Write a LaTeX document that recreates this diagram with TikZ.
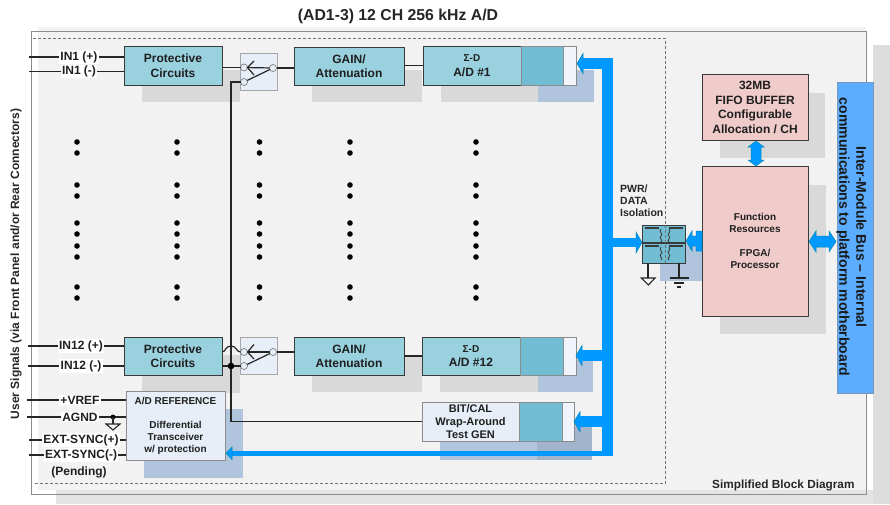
\documentclass[tikz,border=0pt]{standalone}
\usepackage{fontspec}
\setmainfont{Liberation Sans}
\definecolor{panel}{HTML}{F2F2F2}
\definecolor{shade}{HTML}{D9D9D9}
\definecolor{shadeblue}{HTML}{B0C4DE}
\definecolor{lightblue}{HTML}{E8EEF8}
\definecolor{tealbox}{HTML}{99D1DF}
\definecolor{tealdark}{HTML}{70BDD4}
\definecolor{busblue}{HTML}{0099FF}
\definecolor{barblue}{HTML}{5CADFF}
\definecolor{pinkbox}{HTML}{EFCBCA}
\definecolor{edgegray}{HTML}{8C8C8C}
\definecolor{edgedark}{HTML}{3A3A3A}
\newcommand\fs[2]{\fontsize{#1}{#2}\selectfont\bfseries}
\tikzset{
  x=1pt,y=-1pt,
  blockbase/.style={anchor=north west,inner sep=0pt,outer sep=0pt,align=center,text=black!88},
  tealblock/.style={blockbase,fill=tealbox,draw=edgedark,line width=1pt},
  pinkblock/.style={blockbase,fill=pinkbox,draw=edgedark,line width=1pt},
  paleblock/.style={blockbase,fill=lightblue,draw=edgegray,line width=1pt},
  darkpart/.style={blockbase,fill=tealdark,draw=edgegray,line width=.8pt},
  whitepart/.style={blockbase,fill=lightblue!60!white,draw=edgegray,line width=.8pt},
  switchbox/.style={blockbase,fill=lightblue,draw=black!35,line width=.8pt},
  contact/.style={circle,minimum size=7pt,inner sep=0pt,outer sep=0pt,fill=lightblue,draw=black!50,line width=.7pt},
  wire/.style={draw=black!85,line width=1.2pt},
  inlabel/.style={fill=white,inner sep=1.2pt,font=\fs{12}{14},text=black!88},
  shadegray/.style={fill=shade},
  shadebl/.style={fill=shadeblue},
  busfill/.style={fill=busblue},
  busedge/.style={fill=busblue,draw=teal!60!busblue,line width=.5pt},
  dotmark/.style={fill=black},
}
\newcommand\dotsat[1]{\foreach \cx in {77,177,259.5,350,476}{\foreach \cy in {#1}{\fill[dotmark] (\cx,\cy) circle (2.8pt);}}}
\begin{document}
\begin{tikzpicture}
\useasboundingbox (0,0) rectangle (890,504);
\fill[white] (0,0) rectangle (890,504);
% panel and its shadow
\fill[shade!70!white] (56,490) rectangle (890,504);
\fill[shade!90!white] (873,45) rectangle (890,504);
\fill[panel] (38,27) rectangle (866,490);
\draw[edgegray,line width=1pt] (31,31) rectangle (866,494);
\draw[black!55,line width=.6pt,dash pattern=on 3pt off 2pt] (33,38) -- (665.5,38) -- (665.5,483) -- (33,483);
% shadows
\fill[shadegray] (142,70) rectangle (240,102);
\fill[shadegray] (312,70) rectangle (422,102);
\fill[shadegray] (441,70) rectangle (538,102);
\fill[shadebl] (538,70) rectangle (594,102);
\fill[shadegray] (142,355) rectangle (240,393);
\fill[shadegray] (312,355) rectangle (422,392);
\fill[shadegray] (440,355) rectangle (538,392);
\fill[shadebl] (538,360) rectangle (593,392);
\fill[shadebl] (144,409) rectangle (243,478);
\fill[shadebl] (440,420) rectangle (592,460);
\fill[shadeblue!92!black] (537,427) rectangle (592,460);
\fill[shadegray] (720,93) rectangle (825,158);
\fill[shadegray] (720,185) rectangle (826,334);
\fill[shadebl] (660,243) rectangle (702,281);
% title and captions
\node[font=\fs{15.8}{18},text=black!85] (title) at (398,16) {(AD1-3) 12 CH 256 kHz A/D};
\node[font=\fs{11.8}{14},text=black!85,anchor=west,inner sep=0pt] (caption) at (712,485) {Simplified Block Diagram};
\node[font=\fs{12}{14},text=black!85,rotate=90] (usersig) at (16,264) {User Signals (via Front Panel and/or Rear Connectors)};
\node[font=\fs{10.5}{12},text=black!85,align=left,anchor=north west,inner sep=0pt] (isolabel) at (620,185) {PWR/\\DATA\\Isolation};
% blocks, channel 1
\node[tealblock,minimum width=98pt,minimum height=38.5pt,font=\fs{12}{14.5}] (prot1) at (124,46.5) {Protective\\Circuits};
\node[switchbox,minimum width=37pt,minimum height=37pt] (sw1) at (240,53) {};
\node[tealblock,minimum width=110pt,minimum height=38pt,font=\fs{12}{14.5}] (gain1) at (294,47) {GAIN/\\Attenuation};
\node[tealblock,minimum width=98pt,minimum height=38.5pt,font=\fs{12}{14.5}] (ad1) at (423,46.5) {{\fs{10}{14.5}Σ-D}\\A/D \#1};
\node[darkpart,minimum width=42pt,minimum height=38.5pt] (ad1b) at (521,46.5) {};
\node[whitepart,minimum width=13pt,minimum height=38.5pt] (ad1c) at (563,46.5) {};
% blocks, channel 12
\node[tealblock,minimum width=98pt,minimum height=38pt,font=\fs{12}{14.5}] (prot12) at (124,337) {Protective\\Circuits};
\node[switchbox,minimum width=37pt,minimum height=37pt] (sw12) at (240,337) {};
\node[tealblock,minimum width=110pt,minimum height=38pt,font=\fs{12}{14.5}] (gain12) at (294,337) {GAIN/\\Attenuation};
\node[tealblock,minimum width=98pt,minimum height=38pt,font=\fs{12}{14.5}] (ad12) at (422,337) {{\fs{10}{14.5}Σ-D}\\A/D \#12};
\node[darkpart,minimum width=43pt,minimum height=38pt] (ad12b) at (520,337) {};
\node[whitepart,minimum width=13pt,minimum height=38pt] (ad12c) at (563,337) {};
% BIT/CAL
\node[paleblock,minimum width=97pt,minimum height=39pt,font=\fs{11}{13}] (bit) at (422,402) {BIT/CAL\\Wrap-Around\\Test GEN};
\node[darkpart,minimum width=43pt,minimum height=39pt] (bitb) at (519,402) {};
\node[whitepart,minimum width=12pt,minimum height=39pt] (bitc) at (562,402) {};
% reference
\node[paleblock,minimum width=99pt,minimum height=69pt,font=\fs{10}{12}] (ref) at (126,391) {A/D REFERENCE\\[12pt]Differential\\Transceiver\\w/ protection};
% right side
\node[pinkblock,minimum width=106pt,minimum height=66pt,font=\fs{12}{14.5}] (fifo) at (702,74.5) {32MB\\FIFO BUFFER\\Configurable\\Allocation / CH};
\node[pinkblock,minimum width=106pt,minimum height=150pt,font=\fs{10}{12}] (func) at (702,166) {Function\\Resources\\[12pt]FPGA/\\Processor};
\node[blockbase,fill=barblue,draw=edgegray!60!barblue,line width=.6pt,minimum width=36pt,minimum height=311pt] (bar) at (837,82) {};
\node[font=\fs{14}{17},text=black!90,rotate=-90,align=center,inner sep=0pt] (bartext) at (851.5,237) {Inter-Module Bus – Internal\\communications to platform motherboard};
% isolation block
\node[darkpart,draw=edgedark,minimum width=43pt,minimum height=38pt] (iso) at (642,225) {};
\draw[edgedark,line width=1.2pt] (iso.west |- 0,243) -- (iso.east |- 0,243);
\draw[black!55,line width=.6pt,dash pattern=on 3pt off 2pt] (665.5,225) -- (665.5,263);
\foreach \yy in {228,246}{
  \draw[edgedark,line width=1.6pt] (645,\yy) -- (659,\yy) (669,\yy) -- (683,\yy);
  \draw[edgedark,line width=.8pt] (661,\yy+1) .. controls (658,\yy+4) and (664,\yy+6) .. (661,\yy+8) .. controls (658,\yy+10) and (664,\yy+12) .. (661,\yy+14);
  \draw[edgedark,line width=.8pt] (669,\yy+1) .. controls (672,\yy+4) and (666,\yy+6) .. (669,\yy+8) .. controls (672,\yy+10) and (666,\yy+12) .. (669,\yy+14);
}
% grounds of the isolation block
\coordinate (gnda) at (648,278);
\coordinate (gndb) at (679,278);
\draw[wire] (iso.south -| gnda) -- (gnda);
\draw[wire] (iso.south -| gndb) -- (gndb);
\draw[black!85,line width=1.1pt] (641.5,278) -- (655,278) -- (648.3,285) -- cycle;
\draw[black!85,line width=1.2pt] (670,278) -- (689,278) (674,283) -- (684,283) (677,287) -- (681,287);
% bus
\fill[busfill] (602,57.5) rectangle (613,456);
\fill[busfill] (232,450.5) rectangle (613,456);
\fill[busedge] (226,453.2) -- (232,447) -- (232,459.5) -- cycle;
\foreach \ay/\tip in {63.5/577,355.5/576,421.7/574}{
  \fill[busedge] (\tip,\ay) -- (\tip+6,\ay-10) -- (\tip+6,\ay+10) -- cycle;
  \fill[busfill] (\tip+5,\ay-5.5) rectangle (603,\ay+5.5);
}
\fill[busedge] (642,242.5) -- (636,232) -- (636,253) -- cycle;
\fill[busfill] (613,238) rectangle (636.5,247);
% double block arrows
\path[busedge] (686,241) -- (692,231) -- (692,236) -- (696,236) -- (696,231) -- (702,231) -- (702,251) -- (696,251) -- (696,246) -- (692,246) -- (692,251) -- cycle;
\path[busedge] (809,241.5) -- (816,231) -- (816,236) -- (829,236) -- (829,231) -- (836,241.5) -- (829,252) -- (829,247) -- (816,247) -- (816,252) -- cycle;
\path[busedge] (756,141) -- (764,147) -- (761,147) -- (761,160) -- (764,160) -- (756,166) -- (748,160) -- (751,160) -- (751,147) -- (748,147) -- cycle;
% switch contacts
\node[contact] (c1a) at (244,67.5) {};
\node[contact] (c1b) at (244,82) {};
\node[contact] (c1c) at (273,68) {};
\node[contact] (c12a) at (244,352) {};
\node[contact] (c12b) at (244,366) {};
\node[contact] (c12c) at (273,352) {};
\draw[wire] (prot1.east |- c1a) -- (c1a);
\draw[wire] (c1c) -- (gain1.west |- c1c);
\draw[wire] (c1c) -- (c1a);
\draw[wire] (c1c) -- (c1b);
\draw[wire] (254,61) -- (c1a.east) -- (254,75);
\draw[wire] (c12c) -- (gain12.west |- c12c);
\draw[wire] (c12c) -- (c12a);
\draw[wire] (c12c) -- (c12b);
\draw[wire] (254,344.5) -- (c12a.east) -- (254,359);
\draw[wire] (gain1.east |- ad1) -- (ad1.west);
\draw[wire] (gain12.east |- ad12) -- (ad12.west);
% cal bus wire
\coordinate (tap) at (231,366);
\draw[wire] (c1b.west) -- (231,82) -- (231,421.7) -- (bit.west |- 231,421.7);
\draw[wire] (tap) -- (c12b.west);
\draw[wire] (tap) -- (prot12.east |- tap);
\fill[black] (tap) circle (3.3pt);
\draw[wire] (prot12.east |- c12a) .. controls (226,352) and (225,346) .. (231,346) .. controls (237,346) and (236,352) .. (c12a.west);
% input labels and wires
\coordinate (f1) at (29,57);
\coordinate (f2) at (29,71.5);
\coordinate (f3) at (28,346);
\coordinate (f4) at (28,366);
\coordinate (f5) at (27,400);
\coordinate (f6) at (27,417);
\coordinate (f7) at (29,440);
\coordinate (f8) at (29,455);
\node[inlabel] (l1) at (79,57) {IN1 (+)};
\node[inlabel] (l2) at (79,71.5) {IN1 (-)};
\node[inlabel] (l3) at (81,346) {IN12 (+)};
\node[inlabel] (l4) at (81,366) {IN12 (-)};
\node[inlabel] (l5) at (80,400) {+VREF};
\node[inlabel] (l6) at (80,417) {AGND};
\node[inlabel] (l7) at (81,440) {EXT-SYNC(+)};
\node[inlabel] (l8) at (81,455) {EXT-SYNC(-)};
\node[font=\fs{12}{14},text=black!88] (pend) at (79,472) {(Pending)};
\draw[wire] (f1) -- (l1) (l1) -- (prot1.west |- l1);
\draw[wire] (f2) -- (l2) (l2) -- (prot1.west |- l2);
\draw[wire] (f3) -- (l3) (l3) -- (prot12.west |- l3);
\draw[wire] (f4) -- (l4) (l4) -- (prot12.west |- l4);
\draw[wire] (f5) -- (l5) (l5) -- (ref.west |- l5);
\draw[wire] (f6) -- (l6) (l6) -- (ref.west |- l6);
\draw[wire] (f7) -- (l7) (l7) -- (ref.west |- l7);
\draw[wire] (f8) -- (l8) (l8) -- (ref.west |- l8);
\coordinate (agdot) at (113,417);
\coordinate (agtri) at (113,424);
\fill[black] (agdot) circle (2.4pt);
\draw[wire] (agdot) -- (agtri);
\draw[black!85,line width=1.1pt] (106,424) -- (120,424) -- (113,430) -- cycle;
% continuation dots
\dotsat{142,153,185,196,223,234,246,257,287,298}
\end{tikzpicture}
\end{document}
